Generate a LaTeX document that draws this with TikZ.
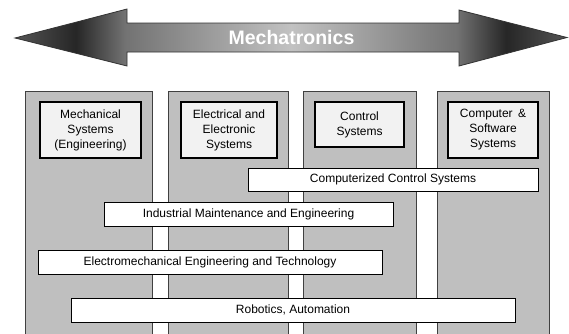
\documentclass[tikz,border=0pt]{standalone}
\usepackage{fontspec}
\setmainfont{Liberation Sans}
\definecolor{arrowtip}{gray}{0.33}
\definecolor{arrowdark}{gray}{0.15}
\definecolor{arrowmid}{gray}{0.45}
\definecolor{arrowlight}{gray}{0.76}
\definecolor{colgray}{gray}{0.75}
\definecolor{boxgray}{gray}{0.95}
\pgfdeclarehorizontalshading{mechashade}{100bp}{color(0bp)=(arrowtip); color(25bp)=(arrowtip); color(30.5bp)=(arrowdark); color(35bp)=(arrowmid); color(50bp)=(arrowlight); color(65bp)=(arrowmid); color(69.5bp)=(arrowdark); color(75bp)=(arrowtip); color(100bp)=(arrowtip)}
\tikzset{
  column/.style={draw=black!75,fill=colgray,line width=0.9pt,anchor=north west,inner sep=0pt},
  subject/.style={draw=black,fill=boxgray,line width=1.4pt,align=center,inner sep=0pt,
    font=\fontsize{12}{15}\selectfont},
  course/.style={draw=black,fill=white,line width=1pt,inner sep=0pt,
    font=\fontsize{12}{14}\selectfont}
}
\begin{document}
\begin{tikzpicture}[x=1pt,y=-1pt]
\clip (0,0) rectangle (569,333);
% double arrow
\draw[black!80,line width=0.8pt,shading=mechashade] (15,38) -- (127,9) -- (127,23) -- (459,23) -- (459,10)
  -- (567,37.5) -- (459,66) -- (459,52) -- (127,52) -- (127,66) -- cycle;
\node[text=white,font=\fontsize{19.5}{22}\selectfont\bfseries] (title) at (291.5,37.5) {Mechatronics};
% columns
\foreach \name/\xl/\xr in {mech/25/152,elec/168/288,ctrl/303/416,comp/437/549}{
  \node[column,minimum width=\xr pt-\xl pt,minimum height=260pt] (\name) at (\xl,91) {};
}
% disciplines
\node[subject,minimum width=101pt,minimum height=56pt] (mechsys) at (90.5,130) {Mechanical\\Systems\\(Engineering)};
\node[subject,minimum width=96pt,minimum height=56pt] (elecsys) at (229,130) {Electrical and\\Electronic\\Systems};
\node[subject,minimum width=89pt,minimum height=45pt] (ctrlsys) at (359.5,124.5) {Control\\Systems};
\node[subject,minimum width=90pt,minimum height=56pt] (compsys) at (493,130) {Computer \,\&\\Software\\Systems};
% programmes
\node[course,minimum width=290pt,minimum height=23pt] (ccs) at (393,179.5) {Computerized Control Systems};
\node[course,minimum width=289pt,minimum height=24pt] (ime) at (248.5,214) {Industrial Maintenance and Engineering};
\node[course,minimum width=344pt,minimum height=24pt] (eet) at (210,262) {Electromechanical Engineering and Technology};
\node[course,minimum width=444pt,minimum height=24pt] (rob) at (293,310) {Robotics, Automation};
\end{tikzpicture}
\end{document}
